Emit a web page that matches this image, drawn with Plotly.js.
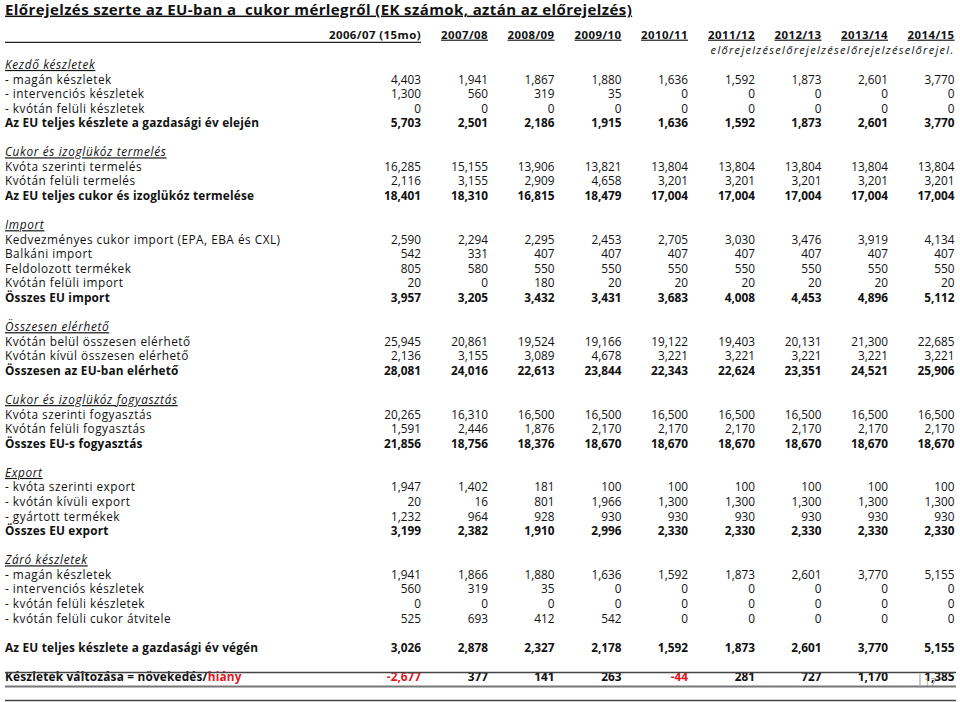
<!DOCTYPE html>
<html>
<head>
<meta charset="utf-8">
<script src="https://cdn.plot.ly/plotly-3.0.1.min.js"></script>
<style>html,body{margin:0;padding:0;background:#fff;}#chart{width:960px;height:702px;}</style>
</head>
<body>
<div id="chart"></div>
<script>
// ---------------- DATA ----------------
const titleText = 'Előrejelzés szerte az EU-ban a  cukor mérlegről (EK számok, aztán az előrejelzés)';
const years = ['2006/07 (15mo)', '2007/08', '2008/09', '2009/10', '2010/11', '2011/12', '2012/13', '2013/14', '2014/15'];
const forecastNote = 'előrejelzéselőrejelzéselőrejelzéselőrejel.';

// row kinds: 'section' (italic underlined), 'item', 'total' (bold), 'change' (bold, framed)
const rowLabels = [
  'Kezdő készletek',
  '- magán készletek',
  '- intervenciós készletek',
  '- kvótán felüli készletek',
  'Az EU teljes készlete a gazdasági év elején',
  null,
  'Cukor és izoglükóz termelés',
  'Kvóta szerinti termelés',
  'Kvótán felüli termelés',
  'Az EU teljes cukor és izoglükóz termelése',
  null,
  'Import',
  'Kedvezményes cukor import (EPA, EBA és CXL)',
  'Balkáni import',
  'Feldolozott termékek',
  'Kvótán felüli import',
  'Összes EU import',
  null,
  'Összesen elérhető',
  'Kvótán belül összesen elérhető',
  'Kvótán kívül összesen elérhető',
  'Összesen az EU-ban elérhető',
  null,
  'Cukor és izoglükóz fogyasztás',
  'Kvóta szerinti fogyasztás',
  'Kvótán felüli fogyasztás',
  'Összes EU-s fogyasztás',
  null,
  'Export',
  '- kvóta szerinti export',
  '- kvótán kívüli export',
  '- gyártott termékek',
  'Összes EU export',
  null,
  'Záró készletek',
  '- magán készletek',
  '- intervenciós készletek',
  '- kvótán felüli készletek',
  '- kvótán felüli cukor átvitele',
  null,
  'Az EU teljes készlete a gazdasági év végén',
  null,
  'Készletek változása = növekedés/hiány'
];
const rowKinds = [
  'section','item','item','item','total',null,
  'section','item','item','total',null,
  'section','item','item','item','item','total',null,
  'section','item','item','total',null,
  'section','item','item','total',null,
  'section','item','item','item','total',null,
  'section','item','item','item','item',null,
  'total',null,
  'change'
];

// values per row (null for rows without numbers), one entry per year
const openPrivate      = [4403, 1941, 1867, 1880, 1636, 1592, 1873, 2601, 3770];
const openIntervention = [1300, 560, 319, 35, 0, 0, 0, 0, 0];
const openOutOfQuota   = [0, 0, 0, 0, 0, 0, 0, 0, 0];
const openTotal        = [5703, 2501, 2186, 1915, 1636, 1592, 1873, 2601, 3770];
const prodQuota        = [16285, 15155, 13906, 13821, 13804, 13804, 13804, 13804, 13804];
const prodOutOfQuota   = [2116, 3155, 2909, 4658, 3201, 3201, 3201, 3201, 3201];
const prodTotal        = [18401, 18310, 16815, 18479, 17004, 17004, 17004, 17004, 17004];
const impPreferential  = [2590, 2294, 2295, 2453, 2705, 3030, 3476, 3919, 4134];
const impBalkan        = [542, 331, 407, 407, 407, 407, 407, 407, 407];
const impProcessed     = [805, 580, 550, 550, 550, 550, 550, 550, 550];
const impOutOfQuota    = [20, 0, 180, 20, 20, 20, 20, 20, 20];
const impTotal         = [3957, 3205, 3432, 3431, 3683, 4008, 4453, 4896, 5112];
const availInQuota     = [25945, 20861, 19524, 19166, 19122, 19403, 20131, 21300, 22685];
const availOutQuota    = [2136, 3155, 3089, 4678, 3221, 3221, 3221, 3221, 3221];
const availTotal       = [28081, 24016, 22613, 23844, 22343, 22624, 23351, 24521, 25906];
const consQuota        = [20265, 16310, 16500, 16500, 16500, 16500, 16500, 16500, 16500];
const consOutOfQuota   = [1591, 2446, 1876, 2170, 2170, 2170, 2170, 2170, 2170];
const consTotal        = [21856, 18756, 18376, 18670, 18670, 18670, 18670, 18670, 18670];
const expQuota         = [1947, 1402, 181, 100, 100, 100, 100, 100, 100];
const expOutOfQuota    = [20, 16, 801, 1966, 1300, 1300, 1300, 1300, 1300];
const expProcessed     = [1232, 964, 928, 930, 930, 930, 930, 930, 930];
const expTotal         = [3199, 2382, 1910, 2996, 2330, 2330, 2330, 2330, 2330];
const closePrivate     = [1941, 1866, 1880, 1636, 1592, 1873, 2601, 3770, 5155];
const closeIntervention= [560, 319, 35, 0, 0, 0, 0, 0, 0];
const closeOutOfQuota  = [0, 0, 0, 0, 0, 0, 0, 0, 0];
const closeCarryOver   = [525, 693, 412, 542, 0, 0, 0, 0, 0];
const closeTotal       = [3026, 2878, 2327, 2178, 1592, 1873, 2601, 3770, 5155];
const stockChange      = [-2677, 377, 141, 263, -44, 281, 727, 1170, 1385];

const rowValues = [
  null, openPrivate, openIntervention, openOutOfQuota, openTotal, null,
  null, prodQuota, prodOutOfQuota, prodTotal, null,
  null, impPreferential, impBalkan, impProcessed, impOutOfQuota, impTotal, null,
  null, availInQuota, availOutQuota, availTotal, null,
  null, consQuota, consOutOfQuota, consTotal, null,
  null, expQuota, expOutOfQuota, expProcessed, expTotal, null,
  null, closePrivate, closeIntervention, closeOutOfQuota, closeCarryOver, null,
  closeTotal, null,
  stockChange
];

// ---------------- LAYOUT / STYLE ----------------
const W = 960, H = 702;
const ROW0_PX = 66, ROW_STEP = 14.57;          // pixel centre of row 0 and row pitch
const yTop = (0 - ROW0_PX) / ROW_STEP;
const yBot = (H - ROW0_PX) / ROW_STEP;
const pxToRow = px => (px - ROW0_PX) / ROW_STEP;
const labelX = 5;
const colRight = [421, 488, 554.5, 621.5, 688, 755, 821.5, 888, 954.5];
const RED = '#e3161e';
const INK = '#111111';
const FONT = 'Open Sans, sans-serif';
const ROW_SIZE = 11.8;
const spaced = (t, px) => '<span style="letter-spacing:' + px + 'px">' + t + '</span>';

const fmt = v => {
  const s = Math.abs(v).toLocaleString('en-US');
  return (v < 0 ? '-' : '') + s;
};

const traces = [];

// labels
function labelTrace(kind) {
  const ys = [], ts = [];
  rowLabels.forEach((lab, i) => {
    if (lab === null || rowKinds[i] !== kind) return;
    ys.push(i);
    let t = spaced(lab, 0.5);
    if (kind === 'section') t = '<i><u>' + spaced(lab, 0.65) + '</u></i>';
    if (kind === 'total' || kind === 'change') {
      t = '<b>' + spaced(lab.replace('hiány', '<span style="color:' + RED + '">hiány</span>'), 0.2) + '</b>';
    }
    ts.push(t);
  });
  return {
    type: 'scatter', mode: 'text', x: ys.map(() => labelX), y: ys, text: ts,
    textposition: 'middle right', textfont: {family: FONT, size: ROW_SIZE, color: INK},
    hoverinfo: 'skip', showlegend: false, cliponaxis: false
  };
}
['item', 'section', 'total', 'change'].forEach(k => traces.push(labelTrace(k)));

// numbers: one regular + one bold trace per column
years.forEach((yr, c) => {
  ['item', 'bold'].forEach(group => {
    const ys = [], ts = [], cols = [];
    rowValues.forEach((vals, i) => {
      if (!vals) return;
      const isBold = rowKinds[i] === 'total' || rowKinds[i] === 'change';
      if ((group === 'bold') !== isBold) return;
      ys.push(i);
      ts.push(isBold ? '<b>' + fmt(vals[c]) + '</b>' : fmt(vals[c]));
      cols.push(vals[c] < 0 ? RED : INK);
    });
    traces.push({
      type: 'scatter', mode: 'text', x: ys.map(() => colRight[c]), y: ys, text: ts,
      textposition: 'middle left',
      textfont: {family: FONT, size: ROW_SIZE, color: cols},
      hoverinfo: 'skip', showlegend: false, cliponaxis: false
    });
  });
});

// column headers
traces.push({
  type: 'scatter', mode: 'text',
  x: colRight, y: years.map(() => pxToRow(35.8)),
  text: years.map((y, c) => c === 0 ? '<b>' + spaced(y, 0.45) + '</b>' : '<b><u>' + spaced(y, 0.45) + '</u></b>'),
  textposition: 'middle left',
  textfont: {family: FONT, size: 11.4, color: INK},
  hoverinfo: 'skip', showlegend: false, cliponaxis: false
});
// forecast note
traces.push({
  type: 'scatter', mode: 'text',
  x: [colRight[8]], y: [pxToRow(51.5)],
  text: ['<i>' + spaced(forecastNote, 1.3) + '</i>'],
  textposition: 'middle left',
  textfont: {family: FONT, size: 11, color: INK},
  hoverinfo: 'skip', showlegend: false, cliponaxis: false
});
// title
traces.push({
  type: 'scatter', mode: 'text',
  x: [labelX], y: [pxToRow(10.8)],
  text: ['<b><u>' + spaced(titleText, 0.4) + '</u></b>'],
  textposition: 'middle right',
  textfont: {family: FONT, size: 15, color: INK},
  hoverinfo: 'skip', showlegend: false, cliponaxis: false
});

const hline = (px, x0, x1, color, width) => ({
  type: 'line', xref: 'x', yref: 'y', x0: x0, x1: x1, y0: pxToRow(px), y1: pxToRow(px),
  line: {color: color, width: width}
});

const layout = {
  width: W, height: H,
  margin: {l: 0, r: 0, t: 0, b: 0},
  paper_bgcolor: '#ffffff', plot_bgcolor: '#ffffff',
  xaxis: {range: [0, W], visible: false, fixedrange: true},
  yaxis: {range: [yBot, yTop], visible: false, fixedrange: true},
  showlegend: false,
  shapes: [
    hline(42.3, 5, 421, '#222', 1.2),
    hline(672.5, 5, 956, '#444', 1.3),
    hline(686.5, 5, 956, '#777', 2.2),
    hline(700.5, 5, 956, '#444', 1.3),
    {type: 'line', xref: 'x', yref: 'y', x0: 920, x1: 920, y0: pxToRow(674), y1: pxToRow(688), line: {color: '#999', width: 1}}
  ],
  annotations: [
    {x: 922, y: pxToRow(681), xref: 'x', yref: 'y', text: '17', showarrow: false, xanchor: 'left',
     font: {family: FONT, size: 11, color: 'rgba(120,120,120,0.7)'}}
  ]
};

Plotly.newPlot('chart', traces, layout, {displayModeBar: false, staticPlot: true});
</script>
</body>
</html>
